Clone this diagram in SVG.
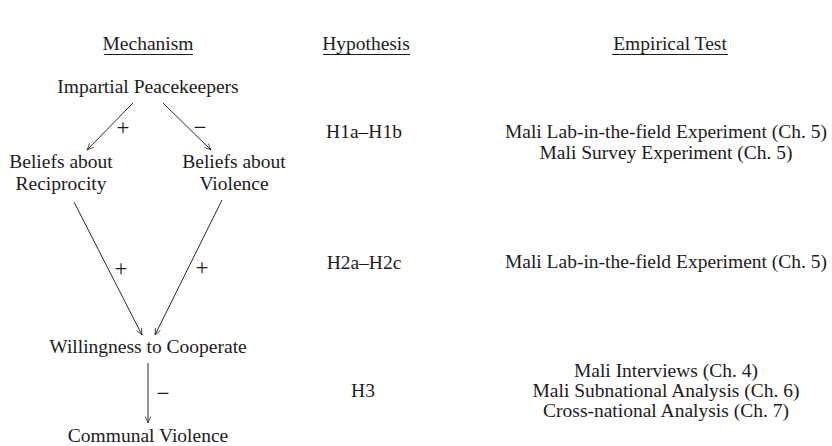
<svg xmlns="http://www.w3.org/2000/svg" width="832" height="446" viewBox="0 0 832 446">
<defs>
<style>
text{font-family:"Liberation Serif","DejaVu Serif",serif;font-size:19.5px;fill:#1c1c1c;text-anchor:middle}
text.sg{font-size:23px}
.ln{stroke:#2a2a2a;stroke-width:1;fill:none}
.ul{stroke:#1c1c1c;stroke-width:1.2}
</style>
<marker id="ah" viewBox="0 0 10 10" refX="9" refY="5" markerWidth="8" markerHeight="8" orient="auto" markerUnits="userSpaceOnUse">
<path d="M1,1.5 Q6,4 9,5 Q6,6 1,8.5" fill="none" stroke="#2a2a2a" stroke-width="1"/>
</marker>
</defs>
<rect width="832" height="446" fill="#ffffff"/>
<g id="headers">
<text x="148" y="50">Mechanism</text>
<line class="ul" x1="104" y1="54.5" x2="193" y2="54.5"/>
<text x="366" y="50">Hypothesis</text>
<line class="ul" x1="323" y1="54.5" x2="410" y2="54.5"/>
<text x="670" y="50">Empirical Test</text>
<line class="ul" x1="612" y1="54.5" x2="728" y2="54.5"/>
</g>
<g id="n-peacekeepers"><text x="148" y="93">Impartial Peacekeepers</text></g>
<g id="n-reciprocity"><text x="61" y="168">Beliefs about</text><text x="61" y="190">Reciprocity</text></g>
<g id="n-violence-beliefs"><text x="234" y="168">Beliefs about</text><text x="234" y="190">Violence</text></g>
<g id="n-cooperate"><text x="148" y="353">Willingness to Cooperate</text></g>
<g id="n-communal"><text x="148" y="442">Communal Violence</text></g>
<g id="connectors">
<line class="ln" x1="133" y1="103" x2="87" y2="150" marker-end="url(#ah)"/>
<line class="ln" x1="163" y1="103" x2="211" y2="150" marker-end="url(#ah)"/>
<line class="ln" x1="74" y1="202" x2="142" y2="335" marker-end="url(#ah)"/>
<line class="ln" x1="222" y1="200" x2="155" y2="335" marker-end="url(#ah)"/>
<line class="ln" x1="148" y1="363" x2="148" y2="423" marker-end="url(#ah)"/>
<text class="sg" x="123" y="135">+</text>
<text class="sg" x="200" y="135">−</text>
<text class="sg" x="121" y="276">+</text>
<text class="sg" x="202" y="275">+</text>
<text class="sg" x="163" y="401">−</text>
</g>
<g id="hypotheses">
<text x="364" y="138">H1a–H1b</text>
<text x="364" y="269">H2a–H2c</text>
<text x="363" y="397">H3</text>
</g>
<g id="tests">
<text x="666" y="138">Mali Lab-in-the-field Experiment (Ch. 5)</text>
<text x="666" y="159">Mali Survey Experiment (Ch. 5)</text>
<text x="666" y="268">Mali Lab-in-the-field Experiment (Ch. 5)</text>
<text x="666" y="377">Mali Interviews (Ch. 4)</text>
<text x="666" y="397">Mali Subnational Analysis (Ch. 6)</text>
<text x="666" y="417">Cross-national Analysis (Ch. 7)</text>
</g>
</svg>
